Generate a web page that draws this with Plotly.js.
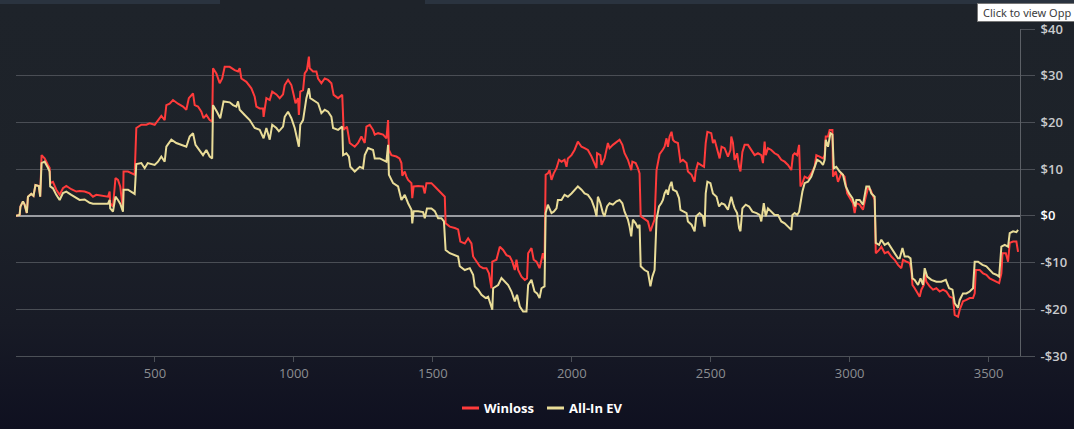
<!DOCTYPE html>
<html><head><meta charset="utf-8">
<script src="https://cdn.plot.ly/plotly-3.0.1.min.js"></script>
<style>
html,body{margin:0;padding:0;width:1074px;height:429px;overflow:hidden;}
body{background:linear-gradient(to bottom,#1e232a 0%,#1d2229 45%,#181b26 75%,#0f1020 100%);}
#wrap{position:relative;width:1074px;height:429px;overflow:hidden;}
#chart{position:absolute;left:0;top:0;width:1074px;height:429px;}
.bar{position:absolute;top:0;height:4px;background:#2a333f;}
#tip{position:absolute;left:977px;top:3px;height:17px;width:130px;background:#fff;border:1px solid #767676;font:11px "Noto Sans",sans-serif;color:#3c3c3c;line-height:17px;padding-left:5px;white-space:nowrap;z-index:5;}
</style></head>
<body>
<div id="wrap">
  <div class="bar" style="left:0;width:220px;"></div>
  <div class="bar" style="left:425px;width:649px;"></div>
  <div id="chart"></div>
  <div id="tip">Click to view Opp</div>
</div>
<script>
// hand number, cumulative $ result
const winlossPoints = [[0,0],[13,0.2],[16,2.0],[25,3.1],[31,2.4],[39,0.6],[43,4.1],[55,4.7],[63,4.3],[70,6.6],[82,6.4],[87,4.1],[92,13.0],[103,12.3],[115,10.9],[121,10.3],[123,7.0],[133,7.3],[145,5.6],[157,4.5],[169,5.9],[181,6.4],[199,5.7],[217,5.2],[229,5.3],[247,5.2],[265,4.8],[277,4.1],[289,4.5],[313,4.3],[331,4.1],[337,5.2],[339,2.7],[349,2.0],[358,8.1],[367,7.7],[375,6.3],[385,1.3],[387,9.5],[403,9.5],[427,8.8],[433,18.8],[451,19.5],[469,19.5],[481,19.8],[499,19.5],[511,20.5],[523,21.4],[535,20.5],[541,23.7],[553,24.0],[565,24.8],[583,24.0],[601,23.4],[613,22.7],[622,25.2],[637,26.2],[643,23.7],[655,23.4],[667,22.3],[675,20.9],[685,21.6],[697,20.5],[706,20.2],[709,31.6],[721,30.5],[733,28.4],[742,29.4],[751,31.9],[769,31.9],[787,31.2],[799,30.9],[805,31.6],[811,29.4],[829,28.7],[847,27.3],[859,25.5],[865,23.4],[877,23.0],[889,23.0],[891,21.2],[901,25.2],[913,24.8],[922,26.6],[937,26.0],[949,25.2],[961,26.0],[967,28.0],[979,29.1],[991,28.0],[999,26.0],[1006,24.1],[1015,25.2],[1018,21.6],[1023,26.6],[1033,26.9],[1039,30.5],[1047,31.2],[1054,34.1],[1057,31.6],[1069,30.9],[1081,30.9],[1087,29.4],[1099,28.4],[1111,29.4],[1123,29.1],[1135,28.4],[1143,25.9],[1159,25.2],[1174,25.9],[1179,18.4],[1191,19.1],[1201,15.6],[1219,14.8],[1231,15.6],[1243,17.0],[1255,15.6],[1261,19.1],[1273,19.5],[1285,18.4],[1291,17.4],[1303,17.7],[1321,17.4],[1333,16.6],[1339,20.5],[1342,14.1],[1351,13.0],[1369,12.7],[1380,12.3],[1387,11.3],[1390,8.6],[1399,9.5],[1405,8.4],[1411,7.7],[1423,7.0],[1426,3.8],[1431,6.3],[1447,6.4],[1465,6.3],[1471,4.8],[1477,7.0],[1495,7.0],[1507,6.3],[1519,5.6],[1531,4.8],[1543,4.1],[1546,-1.6],[1561,-2.3],[1579,-2.6],[1591,-2.9],[1599,-5.5],[1615,-5.9],[1627,-4.8],[1639,-5.9],[1645,-8.7],[1657,-9.8],[1669,-10.8],[1681,-11.2],[1693,-11.2],[1702,-12.3],[1711,-15.5],[1714,-9.8],[1729,-9.4],[1741,-6.6],[1753,-7.3],[1765,-8.4],[1777,-8.7],[1786,-9.8],[1795,-11.6],[1801,-9.4],[1807,-11.6],[1819,-13.0],[1831,-13.7],[1839,-13.4],[1843,-8.0],[1855,-6.9],[1863,-9.4],[1873,-9.8],[1884,-11.2],[1891,-9.4],[1896,-8.0],[1902,-9.4],[1906,8.8],[1914,9.1],[1920,9.8],[1927,7.7],[1935,9.1],[1945,10.2],[1954,12.0],[1963,11.6],[1974,12.0],[1981,10.5],[1986,12.3],[1999,13.0],[2010,14.1],[2022,15.9],[2035,14.8],[2046,14.5],[2058,14.1],[2071,12.7],[2079,11.6],[2089,10.2],[2091,13.4],[2103,13.0],[2107,10.9],[2118,12.3],[2130,15.6],[2136,14.5],[2148,15.2],[2161,15.9],[2172,16.3],[2182,15.2],[2190,13.4],[2202,12.0],[2214,9.8],[2218,11.6],[2230,11.3],[2238,10.2],[2244,9.1],[2248,-0.1],[2262,-0.8],[2274,-1.2],[2283,-3.3],[2290,-1.9],[2298,-0.8],[2305,9.8],[2316,13.2],[2328,14.2],[2334,14.8],[2341,16.6],[2346,14.8],[2352,17.0],[2359,18.0],[2364,16.3],[2370,15.9],[2382,15.6],[2391,11.6],[2400,12.0],[2413,11.3],[2418,9.5],[2431,8.8],[2442,7.3],[2446,9.5],[2454,11.3],[2467,10.9],[2476,10.5],[2482,15.6],[2488,18.0],[2502,17.7],[2508,15.6],[2514,16.3],[2526,13.4],[2532,12.3],[2539,14.8],[2550,14.5],[2562,12.7],[2571,14.1],[2574,17.0],[2580,15.6],[2586,12.0],[2595,13.4],[2602,10.5],[2607,9.5],[2614,13.7],[2622,15.2],[2634,15.2],[2646,14.1],[2658,13.0],[2670,13.4],[2682,13.0],[2688,11.3],[2694,15.9],[2698,13.0],[2706,14.5],[2718,14.1],[2730,13.4],[2742,13.0],[2754,12.0],[2766,11.6],[2778,10.9],[2790,9.8],[2796,13.0],[2802,13.4],[2811,13.0],[2818,15.2],[2823,6.3],[2830,7.0],[2838,8.4],[2850,8.0],[2862,9.1],[2874,10.5],[2880,13.0],[2892,12.7],[2904,12.3],[2910,13.0],[2914,17.0],[2922,17.0],[2928,18.4],[2938,18.4],[2940,8.4],[2950,9.5],[2958,7.3],[2970,9.1],[2982,8.4],[2991,4.8],[3000,3.8],[3012,2.7],[3018,0.6],[3024,2.7],[3036,2.4],[3048,1.3],[3058,4.1],[3066,5.9],[3075,5.6],[3084,4.1],[3090,3.4],[3094,-8.0],[3106,-7.3],[3114,-6.6],[3126,-8.0],[3138,-7.7],[3150,-8.7],[3162,-9.4],[3174,-10.5],[3186,-11.2],[3192,-9.4],[3204,-9.8],[3216,-10.1],[3222,-11.6],[3226,-14.8],[3234,-15.5],[3246,-16.6],[3252,-17.3],[3258,-15.8],[3267,-14.8],[3270,-12.3],[3276,-14.1],[3288,-15.1],[3300,-15.8],[3312,-15.5],[3324,-16.2],[3336,-15.8],[3348,-16.2],[3360,-17.3],[3372,-17.6],[3378,-21.2],[3390,-21.6],[3396,-20.1],[3408,-18.3],[3420,-18.0],[3432,-17.6],[3444,-17.6],[3450,-16.6],[3454,-11.6],[3468,-11.6],[3480,-12.3],[3492,-12.6],[3504,-13.4],[3516,-13.7],[3528,-14.1],[3538,-14.4],[3546,-12.3],[3550,-8.0],[3562,-8.0],[3570,-9.8],[3576,-5.8],[3588,-5.5],[3600,-5.5],[3606,-7.7]];

const allInEvPoints = [[0,0],[13,0.2],[16,2.0],[25,3.1],[31,2.4],[39,0.6],[43,4.1],[55,4.7],[63,4.3],[70,6.6],[82,6.4],[87,4.1],[92,11.3],[103,11.6],[115,10.3],[121,9.5],[123,6.3],[133,5.9],[145,4.5],[157,3.4],[169,4.9],[181,5.2],[199,4.5],[217,3.8],[229,3.4],[247,3.5],[265,2.8],[277,2.6],[289,2.6],[313,2.6],[331,2.6],[337,3.4],[339,1.6],[349,0.9],[358,4.1],[367,3.4],[375,2.6],[385,0.9],[387,5.6],[403,5.6],[427,4.7],[433,11.1],[451,11.3],[463,10.2],[474,11.3],[499,10.9],[511,11.6],[523,12.7],[535,11.6],[541,14.8],[559,16.3],[577,15.6],[595,15.2],[613,14.8],[625,17.0],[637,17.7],[646,15.2],[661,14.1],[673,13.0],[685,14.1],[697,12.7],[706,12.3],[709,23.7],[723,22.3],[735,20.9],[747,24.5],[769,24.3],[781,23.7],[793,23.4],[799,24.5],[805,22.7],[823,21.6],[841,20.5],[859,18.8],[877,18.4],[891,16.6],[901,18.8],[913,16.3],[922,19.5],[937,18.8],[946,18.1],[961,19.1],[967,21.2],[979,22.3],[991,20.9],[1003,18.8],[1009,17.0],[1018,14.8],[1023,19.5],[1033,20.5],[1045,25.2],[1054,27.3],[1059,25.2],[1075,24.5],[1087,24.1],[1099,22.0],[1111,22.7],[1123,22.3],[1135,21.2],[1141,18.8],[1159,18.4],[1174,19.1],[1177,13.0],[1189,13.4],[1198,12.7],[1203,10.5],[1219,9.5],[1237,10.5],[1249,10.2],[1255,13.0],[1267,14.5],[1285,14.1],[1291,12.3],[1309,12.3],[1333,11.6],[1339,15.2],[1342,8.8],[1357,7.0],[1375,6.3],[1387,3.4],[1399,4.5],[1411,2.7],[1423,1.3],[1426,-1.6],[1431,1.0],[1447,1.0],[1465,0.8],[1471,-0.5],[1479,1.6],[1495,1.6],[1507,1.0],[1519,-0.5],[1531,-0.5],[1540,-1.2],[1546,-7.3],[1561,-8.0],[1579,-8.4],[1591,-8.7],[1597,-10.8],[1615,-11.6],[1633,-11.2],[1645,-12.6],[1651,-15.1],[1663,-15.8],[1675,-16.9],[1690,-17.6],[1699,-17.3],[1707,-19.0],[1714,-20.1],[1717,-15.5],[1735,-14.8],[1747,-13.3],[1759,-14.1],[1771,-14.8],[1783,-16.2],[1795,-18.3],[1803,-16.9],[1813,-19.4],[1825,-20.5],[1837,-20.5],[1843,-14.8],[1855,-13.7],[1866,-16.2],[1875,-16.6],[1884,-17.6],[1891,-15.5],[1902,-15.1],[1906,0.6],[1914,2.4],[1927,0.6],[1935,0.9],[1945,1.6],[1950,3.4],[1963,3.4],[1974,4.5],[1986,4.1],[1999,4.8],[2010,5.6],[2022,6.3],[2035,5.6],[2046,4.8],[2058,4.5],[2071,3.4],[2082,1.6],[2089,-0.1],[2094,4.1],[2103,2.7],[2112,0.6],[2118,-0.1],[2127,2.0],[2136,2.7],[2148,2.4],[2161,3.1],[2172,3.4],[2182,2.7],[2190,0.9],[2202,-0.8],[2208,-2.3],[2214,-4.4],[2220,-0.8],[2230,-1.6],[2238,-2.6],[2244,-1.9],[2248,-10.8],[2262,-11.6],[2274,-12.0],[2283,-15.1],[2290,-13.0],[2298,-11.6],[2305,-0.8],[2314,2.0],[2322,2.7],[2328,3.4],[2334,4.8],[2341,5.6],[2346,4.5],[2352,6.3],[2359,7.3],[2364,5.6],[2377,5.2],[2386,3.8],[2391,1.3],[2403,0.9],[2413,0.6],[2418,-1.2],[2431,-1.9],[2442,-3.3],[2448,-0.1],[2460,0.6],[2472,-0.1],[2478,-2.3],[2482,4.8],[2488,7.3],[2499,7.0],[2508,4.8],[2521,4.1],[2530,2.0],[2539,2.7],[2550,2.4],[2562,1.3],[2571,3.4],[2574,4.1],[2580,2.7],[2586,1.6],[2595,0.6],[2602,-2.6],[2607,-3.3],[2614,1.6],[2626,2.4],[2638,2.0],[2650,0.9],[2665,0.6],[2676,0.2],[2682,-1.2],[2691,2.7],[2698,-0.1],[2706,1.6],[2718,0.9],[2730,0.2],[2742,0.2],[2754,-1.2],[2766,-1.6],[2778,-2.3],[2790,-3.0],[2794,0.2],[2802,0.6],[2811,0.2],[2818,0.9],[2823,2.7],[2830,5.2],[2838,7.0],[2850,7.3],[2862,8.4],[2874,10.5],[2883,12.0],[2895,11.6],[2904,10.9],[2910,12.0],[2914,16.3],[2922,14.8],[2931,17.7],[2938,17.4],[2943,10.2],[2952,10.5],[2964,9.5],[2976,8.8],[2986,6.3],[2998,4.8],[3010,3.8],[3020,2.0],[3024,3.4],[3036,3.4],[3048,2.4],[3060,6.3],[3070,6.3],[3078,4.8],[3090,4.1],[3094,-5.8],[3106,-6.2],[3114,-5.1],[3126,-6.2],[3138,-5.8],[3150,-6.9],[3162,-8.0],[3174,-9.1],[3180,-9.1],[3190,-6.9],[3198,-8.7],[3210,-8.7],[3219,-9.1],[3226,-13.4],[3234,-13.7],[3246,-14.8],[3255,-13.4],[3264,-14.8],[3270,-11.2],[3279,-13.0],[3294,-13.7],[3312,-14.1],[3330,-14.1],[3346,-13.7],[3358,-15.5],[3370,-15.8],[3378,-18.7],[3390,-19.7],[3396,-18.0],[3408,-16.6],[3420,-16.6],[3432,-16.2],[3444,-15.5],[3450,-9.8],[3462,-9.8],[3478,-10.5],[3492,-10.8],[3504,-11.6],[3516,-12.3],[3528,-12.6],[3538,-13.0],[3546,-6.6],[3558,-6.2],[3570,-6.6],[3576,-3.7],[3588,-3.3],[3600,-3.5],[3606,-3.0]];

const seriesNames = ["Winloss", "All-In EV"];
const seriesColors = ["#ff3b3b", "#e9dc98"];
const xTickValues = [500, 1000, 1500, 2000, 2500, 3000, 3500];
const yTickValues = [-30, -20, -10, 0, 10, 20, 30, 40];
const yTickLabels = ["-$30", "-$20", "-$10", "<span style=\"color:#ffffff\">$0</span>", "$10", "$20", "$30", "$40"];

const traces = [winlossPoints, allInEvPoints].map((pts, i) => ({
  type: "scatter",
  mode: "lines",
  name: seriesNames[i],
  x: pts.map(p => p[0]),
  y: pts.map(p => p[1]),
  line: {color: seriesColors[i], width: 2},
  hoverinfo: "skip",
  showlegend: false
}));

const L = 16, R = 54, T = 29, B = 73, W = 1074, H = 429;
const pw = W - L - R, ph = H - T - B;
const px = v => (v - L) / pw;
const py = v => (H - B - v) / ph;
const legendY = py(408);

const layout = {
  width: W, height: H,
  margin: {l: L, r: R, t: T, b: B, pad: 0},
  paper_bgcolor: "rgba(0,0,0,0)",
  plot_bgcolor: "rgba(0,0,0,0)",
  showlegend: false,
  xaxis: {
    range: [0, 3613],
    tickvals: xTickValues,
    ticks: "outside", ticklen: 5, tickcolor: "#4c5057", tickwidth: 1,
    showgrid: false, zeroline: false,
    showline: true, linecolor: "#4c5057", linewidth: 1,
    tickfont: {family: "Open Sans", size: 13, color: "#8b8d91"},
    fixedrange: true
  },
  yaxis: {
    side: "right",
    range: [-30, 40],
    tickvals: yTickValues, ticktext: yTickLabels,
    ticks: "outside", ticklen: 14, tickcolor: "#4c5057", tickwidth: 1,
    ticklabelstandoff: 3,
    showgrid: true, gridcolor: "#4a4e55", gridwidth: 1,
    zeroline: true, zerolinecolor: "#9a9ca1", zerolinewidth: 2,
    showline: true, linecolor: "#5c6066", linewidth: 1,
    tickfont: {family: "Open Sans", size: 13, color: "#c9cacd", weight: 600},
    fixedrange: true
  },
  shapes: [
    {type: "line", xref: "paper", yref: "paper", x0: px(462), x1: px(479), y0: legendY, y1: legendY, line: {color: seriesColors[0], width: 3}},
    {type: "line", xref: "paper", yref: "paper", x0: px(547), x1: px(564), y0: legendY, y1: legendY, line: {color: seriesColors[1], width: 3}}
  ],
  annotations: [
    {xref: "paper", yref: "paper", x: px(482), y: legendY, xanchor: "left", yanchor: "middle", showarrow: false, text: seriesNames[0], font: {family: "Open Sans", size: 13, color: "#ffffff", weight: 700}},
    {xref: "paper", yref: "paper", x: px(567), y: legendY, xanchor: "left", yanchor: "middle", showarrow: false, text: seriesNames[1], font: {family: "Open Sans", size: 13, color: "#ffffff", weight: 700}}
  ]
};

Plotly.newPlot("chart", traces, layout, {displayModeBar: false, staticPlot: true});
</script>
</body></html>
